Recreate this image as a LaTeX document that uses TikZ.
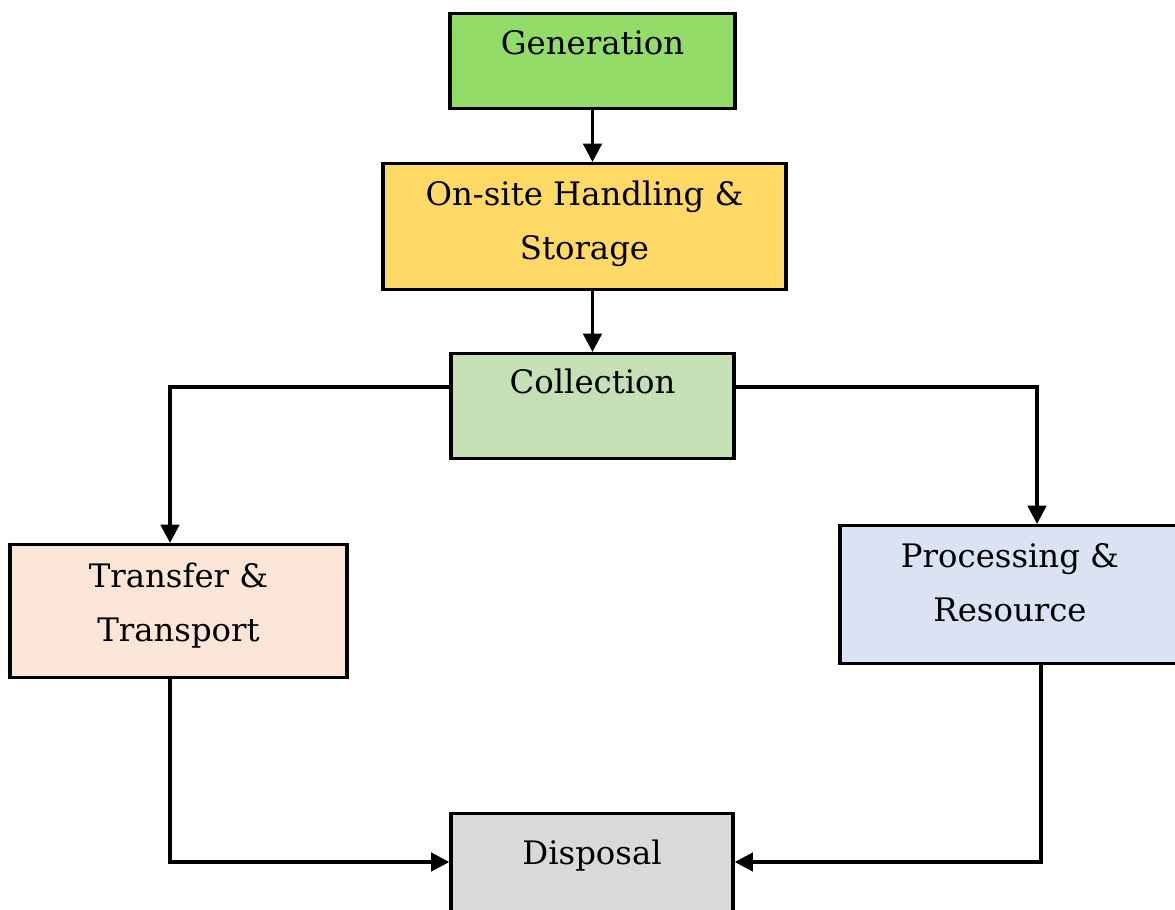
\documentclass[tikz,border=0pt]{standalone}
\usepackage{fontspec}
\setmainfont{DejaVu Serif}
\usetikzlibrary{arrows,arrows.meta}
\usetikzlibrary{positioning}
\definecolor{gencol}{RGB}{147,220,104}
\definecolor{storecol}{RGB}{255,217,102}
\definecolor{collcol}{RGB}{197,224,180}
\definecolor{transcol}{RGB}{251,229,214}
\definecolor{proccol}{RGB}{218,227,243}
\definecolor{dispcol}{RGB}{217,217,217}

\begin{document}
\begin{tikzpicture}[x=0.025cm, y=-0.025cm,
	box/.style={draw, line width=2.3pt, inner sep=0pt, anchor=north, align=center,
		font=\fontsize{23}{38.4}\selectfont},
	arr/.style={line width=2.6pt, -{Triangle[length=13pt, width=13pt]}}]
	\useasboundingbox (0,0) rectangle (1175,909);
		\node[box, fill=gencol, minimum width=7.125cm, text height=1.025cm, text depth=1.35cm] (gen) at (592.5,12) {Generation};
		\node[box, fill=storecol, minimum width=10.075cm, text height=2.4cm, text depth=0.75cm] (store) at (584.5,162) {On-site Handling \&\\Storage};
		\node[box, fill=collcol, minimum width=7.075cm, text height=1cm, text depth=1.625cm] (coll) at (592.5,352) {Collection};
		\node[box, fill=transcol, minimum width=8.425cm, text height=2.425cm, text depth=0.9cm] (trans) at (178.5,543) {Transfer \&\\Transport};
		\node[box, fill=proccol, minimum width=8.5cm, text height=2.4cm, text depth=1.05cm] (proc) at (1010,524) {Processing \&\\Resource};
		\node[box, fill=dispcol, minimum width=7.05cm, text height=1.275cm, text depth=1.925cm] (disp) at (592,812) {Disposal};
		\draw[arr] (gen.south) -- (gen.south |- store.north);
		\draw[arr] (store.south -| coll.north) -- (coll.north);
		\draw[arr] (coll.west |- 0,387) -| (trans.north -| 170,0);
		\draw[arr] (coll.east |- 0,387) -| (proc.north -| 1037,0);
		\draw[arr] (trans.south -| 170,0) |- (disp.west |- 0,862);
		\draw[arr] (proc.south -| 1041,0) |- (disp.east |- 0,862);
\end{tikzpicture}
\end{document}
